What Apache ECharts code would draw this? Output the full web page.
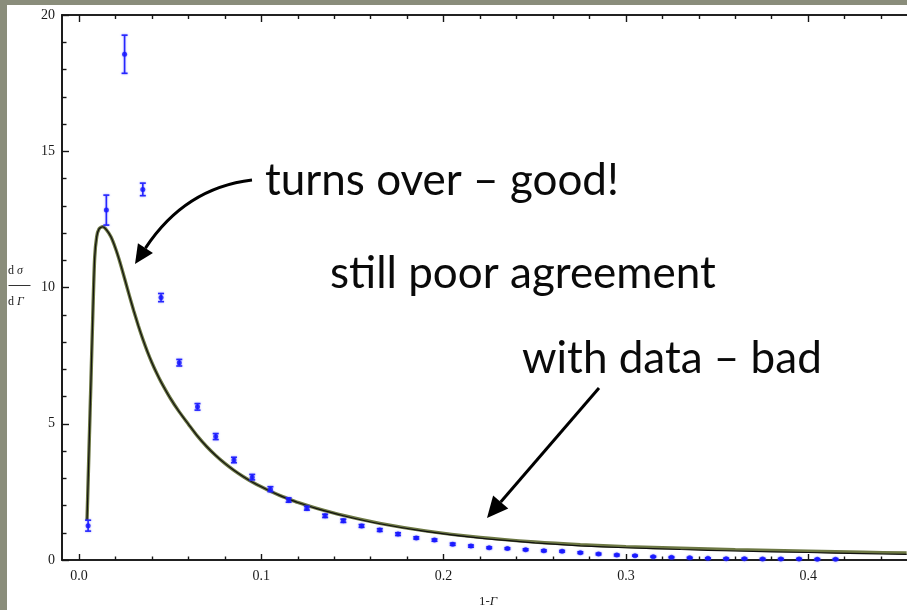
<!DOCTYPE html>
<html>
<head>
<meta charset="utf-8">
<script src="https://cdn.jsdelivr.net/npm/echarts@6/dist/echarts.min.js"></script>
<style>
  html, body { margin: 0; padding: 0; }
  body { width: 907px; height: 610px; background: #8a8d7b; position: relative; overflow: hidden; }
  #chart { position: absolute; left: 7px; top: 5px; width: 900px; height: 605px; background: #ffffff; }
</style>
</head>
<body>
<div id="chart"></div>
<script>
// Measured distribution dσ/dΓ in bins of 1-Γ, with statistical errors
const binCentres = [0.005, 0.015, 0.025, 0.035, 0.045, 0.055, 0.065, 0.075, 0.085, 0.095,
                    0.105, 0.115, 0.125, 0.135, 0.145, 0.155, 0.165, 0.175, 0.185, 0.195,
                    0.205, 0.215, 0.225, 0.235, 0.245, 0.255, 0.265, 0.275, 0.285, 0.295,
                    0.305, 0.315, 0.325, 0.335, 0.345, 0.355, 0.365, 0.375, 0.385, 0.395,
                    0.405, 0.415];
const dataValues = [1.26, 12.84, 18.56, 13.6, 9.63, 7.24, 5.62, 4.53, 3.67, 3.04,
                    2.6, 2.2, 1.9, 1.62, 1.44, 1.25, 1.1, 0.95, 0.81, 0.73,
                    0.58, 0.51, 0.45, 0.42, 0.38, 0.34, 0.32, 0.27, 0.22, 0.18,
                    0.16, 0.12, 0.1, 0.08, 0.06, 0.05, 0.05, 0.04, 0.04, 0.04,
                    0.03, 0.03];
const dataErrors = [0.2, 0.55, 0.7, 0.23, 0.15, 0.12, 0.12, 0.11, 0.1, 0.1,
                    0.09, 0.08, 0.07, 0.06, 0.06, 0.05, 0.05, 0.05, 0.04, 0.04,
                    0.04, 0.04, 0.03, 0.03, 0.03, 0.03, 0.03, 0.03, 0.03, 0.03,
                    0.02, 0.02, 0.02, 0.02, 0.02, 0.02, 0.02, 0.02, 0.02, 0.02,
                    0.02, 0.02];

// Theory prediction (two nearly coincident evaluations)
const theoryX = [0.0044, 0.0055, 0.0066, 0.0077, 0.0086, 0.0097, 0.011, 0.013, 0.015, 0.0175,
                 0.020, 0.0225, 0.025, 0.0275, 0.030, 0.0325, 0.035, 0.0375, 0.040, 0.0425,
                 0.045, 0.050, 0.055, 0.060, 0.065, 0.070, 0.075, 0.080, 0.085, 0.090,
                 0.095, 0.100, 0.105, 0.110, 0.115, 0.120, 0.130, 0.145, 0.165, 0.190,
                 0.220, 0.250, 0.275, 0.300, 0.330, 0.360, 0.400, 0.430, 0.454];
const theoryBlack = [1.47, 4.08, 6.69, 9.31, 11.1, 11.86, 12.15, 12.23, 12.12, 11.86,
                     11.44, 10.92, 10.33, 9.73, 9.15, 8.605, 8.105, 7.65, 7.24, 6.87,
                     6.535, 5.945, 5.435, 4.985, 4.545, 4.165, 3.835, 3.545, 3.29, 3.065,
                     2.865, 2.685, 2.52, 2.37, 2.235, 2.11, 1.895, 1.625, 1.33, 1.05,
                     0.80, 0.63, 0.52, 0.45, 0.385, 0.33, 0.275, 0.235, 0.205];
const theoryOlive = [1.47, 4.08, 6.69, 9.31, 11.1, 11.86, 12.15, 12.23, 12.12, 11.86,
                     11.44, 10.92, 10.33, 9.73, 9.15, 8.605, 8.105, 7.65, 7.24, 6.87,
                     6.535, 5.945, 5.435, 4.985, 4.545, 4.165, 3.835, 3.545, 3.29, 3.065,
                     2.865, 2.685, 2.52, 2.37, 2.24, 2.115, 1.905, 1.635, 1.345, 1.07,
                     0.83, 0.66, 0.56, 0.49, 0.435, 0.38, 0.325, 0.285, 0.255];

// Tick positions
const xLabelTicks = [0.0, 0.1, 0.2, 0.3, 0.4];
const xMinorTicks = [0.02, 0.04, 0.06, 0.08, 0.12, 0.14, 0.16, 0.18, 0.22, 0.24, 0.26, 0.28,
                     0.32, 0.34, 0.36, 0.38, 0.42, 0.44];
const yLabelTicks = [0, 5, 10, 15, 20];
const yMinorTicks = [1, 2, 3, 4, 6, 7, 8, 9, 11, 12, 13, 14, 16, 17, 18, 19];

const X_MIN = -0.00933, X_MAX = 0.4542;
const serif = '"Liberation Serif", "DejaVu Serif", serif';
const sans = 'Lato, "Open Sans", sans-serif';
const axisColor = '#151515';

function zip(a, b) { return a.map((v, i) => [v, b[i]]); }

function xAxisDef(position, values, length, labels) {
  return {
    type: 'value', position: position, min: X_MIN, max: X_MAX,
    axisLine: { show: true, onZero: false, lineStyle: { color: axisColor, width: 1.6 } },
    axisTick: { show: true, inside: true, length: length, customValues: values,
                lineStyle: { color: axisColor, width: 1.4 } },
    axisLabel: labels ? { show: true, customValues: values, margin: 9,
                          formatter: v => v.toFixed(1),
                          fontFamily: serif, fontSize: 14, color: '#1a1a1a' } : { show: false },
    splitLine: { show: false }
  };
}
function yAxisDef(values, length, labels) {
  return {
    type: 'value', position: 'left', min: 0, max: 20,
    axisLine: { show: true, onZero: false, lineStyle: { color: axisColor, width: 1.6 } },
    axisTick: { show: true, inside: true, length: length, customValues: values,
                lineStyle: { color: axisColor, width: 1.4 } },
    axisLabel: labels ? { show: true, customValues: values, margin: 7,
                          formatter: v => String(v),
                          fontFamily: serif, fontSize: 14, color: '#1a1a1a' } : { show: false },
    splitLine: { show: false }
  };
}

// Arrowhead helper: triangle pointing to tip along the unit direction (dx, dy)
function arrowHead(tip, dx, dy, len, half) {
  const bx = tip[0] - dx * len, by = tip[1] - dy * len;
  const px = -dy, py = dx;
  return { base: [bx, by],
           pts: [tip, [bx + px * half, by + py * half], [bx - px * half, by - py * half]] };
}

const chart = echarts.init(document.getElementById('chart'), null, { renderer: 'canvas' });

// Annotation geometry (chart pixel space)
const curveStart = [245, 175], curveCtrl = [178, 183], curveTip = [128, 259];
let cdx = curveTip[0] - curveCtrl[0], cdy = curveTip[1] - curveCtrl[1];
let cl = Math.hypot(cdx, cdy); cdx /= cl; cdy /= cl;
const head1 = arrowHead(curveTip, cdx, cdy, 19, 9);

const lineStart = [592, 383], lineTip = [480, 513];
let ldx = lineTip[0] - lineStart[0], ldy = lineTip[1] - lineStart[1];
let ll = Math.hypot(ldx, ldy); ldx /= ll; ldy /= ll;
const head2 = arrowHead(lineTip, ldx, ldy, 21, 10);

const noteFont = '44px ' + sans;

const option = {
  animation: false,
  grid: { left: 55, right: 0, top: 10, bottom: 50, containLabel: false },
  xAxis: [
    xAxisDef('bottom', xLabelTicks, 6, true),
    xAxisDef('top', xLabelTicks, 7, false),
    xAxisDef('bottom', xMinorTicks, 3.5, false),
    xAxisDef('top', xMinorTicks, 4, false)
  ],
  yAxis: [
    yAxisDef(yLabelTicks, 7, true),
    yAxisDef(yMinorTicks, 4.5, false)
  ],
  series: [
    {
      name: 'theory-olive', type: 'line', xAxisIndex: 0, yAxisIndex: 0,
      data: zip(theoryX, theoryOlive), showSymbol: false, smooth: 0.25,
      lineStyle: { color: '#6d7844', width: 3.4 }, z: 3
    },
    {
      name: 'theory', type: 'line', xAxisIndex: 0, yAxisIndex: 0,
      data: zip(theoryX, theoryBlack), showSymbol: false, smooth: 0.25,
      lineStyle: { color: '#111111', width: 1.2 }, z: 4
    },
    {
      name: 'errors', type: 'custom', xAxisIndex: 0, yAxisIndex: 0,
      data: binCentres.map((x, i) => [x, dataValues[i], dataErrors[i]]),
      renderItem: function (params, api) {
        const x = api.value(0), y = api.value(1), e = api.value(2);
        const top = api.coord([x, y + e]), bot = api.coord([x, y - e]);
        const hw = 3;
        const st = { stroke: '#2626ff', lineWidth: 1.6, shadowBlur: 2, shadowColor: 'rgba(60,60,255,0.5)' };
        return {
          type: 'group',
          children: [
            { type: 'line', shape: { x1: top[0], y1: top[1], x2: bot[0], y2: bot[1] }, style: st },
            { type: 'line', shape: { x1: top[0] - hw, y1: top[1], x2: top[0] + hw, y2: top[1] }, style: st },
            { type: 'line', shape: { x1: bot[0] - hw, y1: bot[1], x2: bot[0] + hw, y2: bot[1] }, style: st }
          ]
        };
      },
      z: 5
    },
    {
      name: 'data', type: 'scatter', xAxisIndex: 0, yAxisIndex: 0,
      data: zip(binCentres, dataValues), symbol: 'circle', symbolSize: 5,
      itemStyle: { color: '#1414ff', shadowBlur: 2, shadowColor: 'rgba(60,60,255,0.5)' }, z: 6
    }
  ],
  graphic: [
    // y-axis title: dσ / dΓ
    { type: 'text', left: 1, top: 260, style: {
        text: '{n|d }{i|σ}', rich: { n: { fontFamily: serif, fontSize: 12, fill: '#222' },
                                    i: { fontFamily: serif, fontSize: 12, fontStyle: 'italic', fill: '#222' } } } },
    { type: 'line', shape: { x1: 1.5, y1: 280.5, x2: 23.5, y2: 280.5 }, style: { stroke: '#333', lineWidth: 1 } },
    { type: 'text', left: 1, top: 291, style: {
        text: '{n|d }{i|Γ}', rich: { n: { fontFamily: serif, fontSize: 12, fill: '#222' },
                                    i: { fontFamily: serif, fontSize: 12, fontStyle: 'italic', fill: '#222' } } } },
    // x-axis title: 1-Γ
    { type: 'text', left: 472, top: 590, style: {
        text: '{n|1-}{i|Γ}', rich: { n: { fontFamily: serif, fontSize: 13, fill: '#222' },
                                    i: { fontFamily: serif, fontSize: 13, fontStyle: 'italic', fill: '#222' } } } },
    // annotations
    { type: 'text', x: 258, y: 176, style: { text: 'turns over – good!', font: noteFont,
        fill: '#0a0a0a', verticalAlign: 'middle' }, z: 20 },
    { type: 'text', x: 323, y: 269, style: { text: 'still poor agreement', font: noteFont,
        fill: '#0a0a0a', verticalAlign: 'middle' }, z: 20 },
    { type: 'text', x: 515, y: 354, style: { text: 'with data – bad', font: noteFont,
        fill: '#0a0a0a', verticalAlign: 'middle' }, z: 20 },
    { type: 'bezierCurve', shape: { x1: curveStart[0], y1: curveStart[1], cpx1: curveCtrl[0], cpy1: curveCtrl[1],
        x2: head1.base[0], y2: head1.base[1] }, style: { stroke: '#000', lineWidth: 3, fill: null }, z: 20 },
    { type: 'polygon', shape: { points: head1.pts }, style: { fill: '#000' }, z: 20 },
    { type: 'line', shape: { x1: lineStart[0], y1: lineStart[1], x2: head2.base[0], y2: head2.base[1] },
      style: { stroke: '#000', lineWidth: 3 }, z: 20 },
    { type: 'polygon', shape: { points: head2.pts }, style: { fill: '#000' }, z: 20 }
  ]
};

chart.setOption(option);
</script>
</body>
</html>
